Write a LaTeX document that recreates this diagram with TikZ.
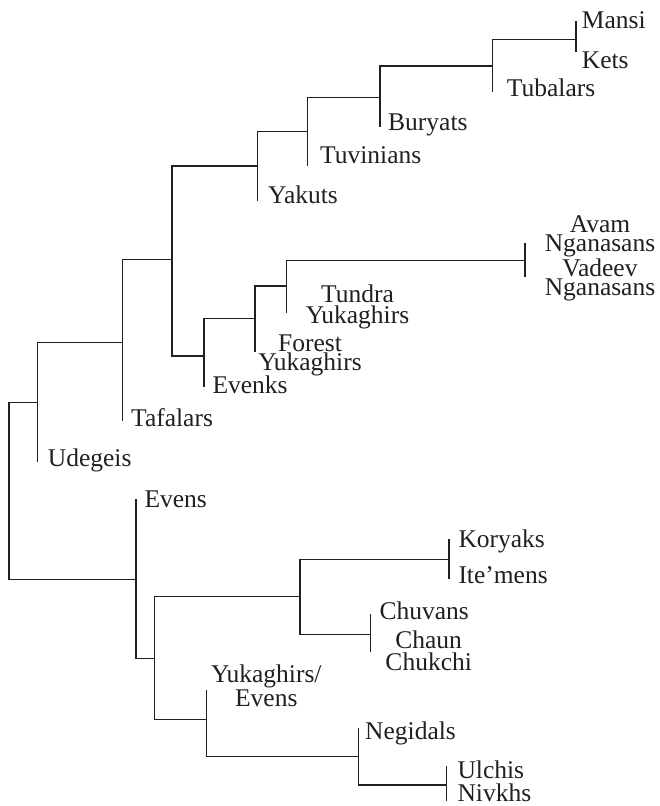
\documentclass[tikz,border=0pt]{standalone}
\usepackage{fontspec}
\setmainfont{Liberation Serif}
\definecolor{ink}{RGB}{35,31,32}
\begin{document}
\begin{tikzpicture}[x=1pt,y=-1pt,
  branch/.style={draw=ink,line width=1.3pt,line cap=rect},
  lab/.style={inner sep=0pt,anchor=base west,text=ink,font=\fontsize{25.5}{20}\selectfont},
  clab/.style={inner sep=0pt,anchor=base,align=center,text=ink,font=\fontsize{25.5}{#1}\selectfont}]
\useasboundingbox (0,0) rectangle (659,806);
% internal nodes (join points on their vertical lines)
\coordinate (r) at (9,490);
\coordinate (A) at (37.3,402.3);
\coordinate (C) at (122.7,342.7);
\coordinate (D) at (172,259.3);
\coordinate (E) at (257.3,166);
\coordinate (G) at (307.7,131.7);
\coordinate (H) at (380,97.3);
\coordinate (I) at (492.3,66);
\coordinate (J) at (576,39.3);
\coordinate (F) at (204,356);
\coordinate (K) at (255,318.3);
\coordinate (L) at (286.7,286);
\coordinate (M) at (525,260.7);
\coordinate (B) at (136,579.3);
\coordinate (N) at (154.3,658.3);
\coordinate (O) at (300,596.7);
\coordinate (Q) at (449,559.3);
\coordinate (S) at (370.7,634.3);
\coordinate (P) at (206.7,719.3);
\coordinate (T) at (358.3,756.7);
\coordinate (U) at (446.7,785);
% leaves
\coordinate (lUde) at (37.3,461.7);
\coordinate (lTaf) at (122.7,420.7);
\coordinate (lYak) at (257.3,200.7);
\coordinate (lTuv) at (307.7,165);
\coordinate (lBur) at (380,126.7);
\coordinate (lTub) at (492.3,91.7);
\coordinate (lMan) at (576,21.7);
\coordinate (lKet) at (576,51.7);
\coordinate (lEvk) at (204,386);
\coordinate (lFor) at (255,351.7);
\coordinate (lTun) at (286.7,312.7);
\coordinate (lAva) at (525,243.3);
\coordinate (lVad) at (525,276);
\coordinate (lEvn) at (136,500);
\coordinate (lKor) at (449,540);
\coordinate (lIte) at (449,578.3);
\coordinate (lChu) at (370.7,615);
\coordinate (lCha) at (370.7,651.7);
\coordinate (lYuE) at (206.7,690.7);
\coordinate (lNeg) at (358.3,728.3);
\coordinate (lUlc) at (446.7,766.7);
\coordinate (lNiv) at (446.7,800);
% branches
\draw[branch] (A) -| (r) |- (B);
\draw[branch] (C) -| (A) |- (lUde);
\draw[branch] (D) -| (C) |- (lTaf);
\draw[branch] (E) -| (D) |- (F);
\draw[branch] (G) -| (E) |- (lYak);
\draw[branch] (H) -| (G) |- (lTuv);
\draw[branch] (I) -| (H) |- (lBur);
\draw[branch] (J) -| (I) |- (lTub);
\draw[branch] (lMan) -- (J) -- (lKet);
\draw[branch] (K) -| (F) |- (lEvk);
\draw[branch] (L) -| (K) |- (lFor);
\draw[branch] (M) -| (L) |- (lTun);
\draw[branch] (lAva) -- (M) -- (lVad);
\draw[branch] (lEvn) -- (B) |- (N);
\draw[branch] (O) -| (N) |- (P);
\draw[branch] (Q) -| (O) |- (S);
\draw[branch] (lKor) -- (Q) -- (lIte);
\draw[branch] (lChu) -- (S) -- (lCha);
\draw[branch] (lYuE) -- (P) |- (T);
\draw[branch] (lNeg) -- (T) |- (U);
\draw[branch] (lUlc) -- (U) -- (lNiv);
% labels
\node[lab] (tMan) at (581.7,28.3) {Mansi};
\node[lab] (tKet) at (581.7,68.3) {Kets};
\node[lab] (tTub) at (506.7,96.7) {Tubalars};
\node[lab] (tBur) at (388,130) {Buryats};
\node[lab] (tTuv) at (320,163.3) {Tuvinians};
\node[lab] (tYak) at (268,203.3) {Yakuts};
\node[clab=19.4] (tAva) at (600,251.7) {Avam\\Nganasans};
\node[clab=16.7] (tVad) at (600,295) {Vadeev\\Nganasans};
\node[clab=20.6] (tTun) at (357.5,323.3) {Tundra\\Yukaghirs};
\node[clab=19] (tFor) at (310,370.7) {Forest\\Yukaghirs};
\node[lab] (tEvk) at (212.3,393.3) {Evenks};
\node[lab] (tTaf) at (131,426.7) {Tafalars};
\node[lab] (tUde) at (47.7,466.7) {Udegeis};
\node[lab] (tEvn) at (144.3,507.7) {Evens};
\node[lab] (tKor) at (458.3,547.3) {Koryaks};
\node[lab] (tIte) at (458.3,583.3) {Ite’mens};
\node[lab] (tChu) at (379.3,619.3) {Chuvans};
\node[clab=21.7] (tCha) at (428.7,670) {Chaun\\Chukchi};
\node[clab=19.3] (tYuE) at (266.3,706) {Yukaghirs/\\Evens};
\node[lab] (tNeg) at (365,739.3) {Negidals};
\node[lab] (tUlc) at (457.3,778.3) {Ulchis};
\node[lab] (tNiv) at (457.3,801.7) {Nivkhs};
\end{tikzpicture}
\end{document}
